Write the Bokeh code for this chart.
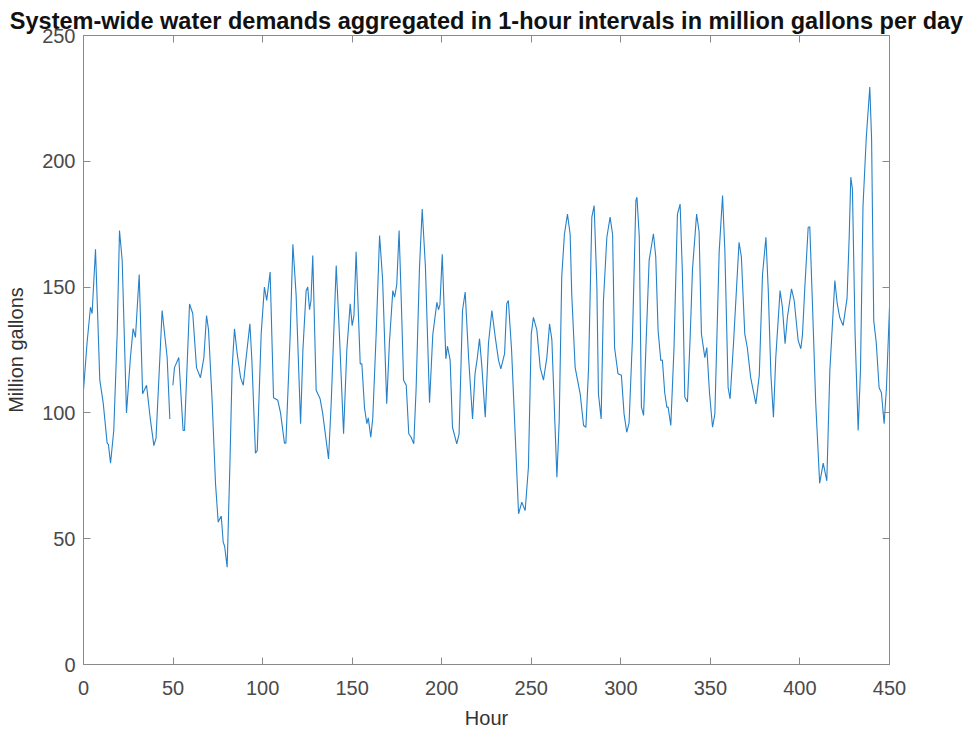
import math
from bokeh.plotting import figure
from bokeh.models import Range1d, LinearAxis, FixedTicker
from bokeh.embed import file_html
from bokeh.resources import INLINE

# Hour of the reading (a gap near hour 49)
hours = [
    0, 2, 3.9, 4.8, 6.7, 9.1, 11, 13.2, 13.9, 15.1, 16.9, 18.8, 20.1, 21.6, 24,
    26.2, 27.7, 29, 31.1, 33, 35.2, 37.4, 39.3, 40.5, 43.9, 46.7, 48.2, 49,
    49.9, 50.8, 53.2, 55.6, 56.4, 59.2, 61, 63.1, 65.3, 67.2, 68.7, 69.8, 71.8,
    73.7, 75.2, 76.9, 78, 78.8, 80.2, 81.7, 83, 84.3, 85.8, 87.7, 89.2, 90.5,
    92.9, 94, 96, 97, 99.2, 101, 102.3, 104.2, 106.1, 108.5, 110, 112.2, 113,
    115.4, 116.9, 118.7, 121.2, 122.5, 124.3, 125.2, 126.2, 127, 128, 129.9,
    132.1, 133.5, 135.5, 136.8, 138.3, 141.1, 142.9, 145.2, 147, 148.9, 150,
    151, 152.2, 154.5, 155.4, 156.9, 158.2, 159, 160.4, 161.5, 163.4, 165.3,
    167, 169.3, 170.8, 172.7, 173.7, 174.9, 176.2, 177.4, 178.7, 180.2, 181.6,
    182.9, 184.4, 185.7, 187.6, 189.1, 190.9, 193.2, 195, 197.3, 198.2, 199,
    200.3, 202.3, 203.2, 204.7, 206, 208.4, 209.7, 211.6, 213.1, 215, 217.2,
    218.6, 219.9, 221.1, 222.4, 224.3, 226.1, 228, 229.9, 231.7, 233, 235.1,
    236.3, 237.2, 239, 241, 242.9, 244.7, 246.6, 248.4, 250, 251.2, 253.1, 255,
    256.8, 258.7, 260.2, 261.5, 263, 264.3, 265.6, 267, 268.5, 270.2, 271.7,
    272.6, 274.5, 277.3, 279.2, 280.5, 282, 283.8, 285.1, 286.6, 287.5, 289,
    290.3, 292.2, 294, 295.4, 296.5, 298.4, 300.3, 301.8, 303.3, 304.6, 306.5,
    308.4, 309, 310.3, 311.5, 312.7, 314, 315.8, 318.2, 319.5, 320.8, 322.3,
    323.2, 324.5, 325.7, 326.4, 327.9, 329.7, 331.6, 333.1, 334.4, 335.7, 337.2,
    338.7, 340, 342.3, 343.7, 345, 346.9, 348, 349.5, 351.2, 352.5, 354.9,
    356.8, 358.1, 359.9, 361, 362.9, 366, 367.3, 369.2, 370.6, 372.5, 375.4,
    377.3, 379.1, 381, 382.3, 383.8, 385.2, 386.5, 388.9, 390.2, 391.7, 393,
    395.3, 396.8, 399, 400.5, 401.4, 402.7, 404.6, 405.5, 407, 408.8, 411, 413,
    415, 416.7, 419.5, 420.8, 422.2, 424.1, 426.3, 427.5, 428.4, 429.3, 430.8,
    432.5, 433.8, 435.2, 437, 439, 440, 441.2, 442.6, 444.2, 445.5, 447, 448.3,
    450,
]

# Million gallons (NaN = missing reading)
demand = [
    109, 128, 142, 139.5, 165, 113, 104, 88, 87.5, 80, 93, 131.5, 172.5, 160.6, 100,
    122, 133.5, 130, 155, 107.6, 111, 97, 87, 90, 140.7, 122, 97.6, float("nan"),
    111, 118, 122, 93, 93, 143.3, 139.5, 118, 114, 122, 138.7, 133, 105,
    72, 56.6, 59, 48.6, 47, 38.7, 78.4, 118, 133.4, 123.6, 114, 111, 120,
    135.4, 121, 84, 85, 131.4, 150, 144.7, 156, 106, 105, 100, 88, 88,
    131, 167, 147, 95.7, 125, 148.6, 150, 141, 144.5, 162.6, 109,
    105.6, 100, 89, 81.7, 104, 158.6, 131, 91.7, 124.8, 143.4, 134.7,
    138.7, 164, 119.5, 119.5, 102, 95.7, 98, 90.3, 98, 131.4, 170.5,
    153, 103.6, 128, 148.6, 146, 151, 172.5, 145, 113, 111, 91.7,
    90.3, 87.7, 109.5, 158, 181, 158, 104, 131, 144, 141, 143,
    163, 121.5, 126.5, 121, 94.3, 87.7, 91.7, 140.7, 148, 122, 97.6,
    115.6, 122, 129.5, 118.5, 98.3, 127.7, 140.7, 130, 121, 117.5, 123.6,
    143.4, 144.7, 125, 91.7, 59.9, 64.5, 61.2, 78.4, 131.4, 138, 133, 118,
    113, 122, 135.4, 129, 99.6, 74.4, 97, 154, 171, 179, 171,
    147, 118, 107.6, 95, 94.3, 118, 177.8, 182.4, 151, 107.6, 97.6,
    144.7, 169.8, 177.8, 171, 126, 115.6, 115, 99.6, 92.3, 96, 130,
    184.4, 185.7, 170, 102.3, 99, 126, 160.6, 171.2, 162, 132.8, 120.8,
    121, 108, 102.3, 102.3, 95, 126, 179, 183, 155, 106.3, 104.3,
    130, 157, 179, 172, 131.4, 122, 126, 108, 94.3, 99.6, 164,
    186.4, 164, 110, 105.6, 127.6, 167.8, 162, 131.4, 126, 114, 103.6,
    115, 155, 169.8, 149, 115, 98.3, 122, 148.6, 142, 127.5, 138,
    149.3, 144.6, 128.8, 125.5, 131, 149.5, 173.8, 174, 143, 104, 72, 80,
    73, 116.9, 152.6, 143.5, 138, 134.7, 145.5, 170, 193.7, 189, 131,
    93, 117, 182, 209, 229.5, 209, 136.7, 128, 110, 108, 95.7, 110,
    142,
]

x_ticks = [0, 50, 100, 150, 200, 250, 300, 350, 400, 450]
y_ticks = [0, 50, 100, 150, 200, 250]

AX = "#8a8a8a"
TXT = "#4a4a4a"
FONT = "Liberation Sans"

p = figure(
    frame_width=806, frame_height=629,
    x_range=Range1d(0, 450), y_range=Range1d(0, 250),
    output_backend="svg", toolbar_location=None,
    min_border_left=83, min_border_right=76, min_border_top=35, min_border_bottom=0,
    title="System-wide water demands aggregated in 1-hour intervals in million gallons per day",
)
p.title.text_font = FONT
p.title.text_font_size = "23.5px"
p.title.text_font_style = "bold"
p.title.text_color = "#111111"
p.title.align = "center"
p.title.standoff = 4
p.title.offset = 0

p.line(hours, demand, line_color="#2581c9", line_width=1.1)

p.xgrid.visible = False
p.ygrid.visible = False
p.outline_line_color = AX
p.outline_line_width = 1

def style(ax):
    ax.axis_line_color = AX
    ax.major_tick_line_color = AX
    ax.major_tick_in = 7
    ax.major_tick_out = 0
    ax.minor_tick_line_color = None
    ax.major_label_text_font = FONT
    ax.major_label_text_font_size = "20px"
    ax.major_label_text_color = TXT
    ax.axis_label_text_font = FONT
    ax.axis_label_text_font_size = "20px"
    ax.axis_label_text_font_style = "normal"
    ax.axis_label_text_color = "#333333"

p.xaxis.ticker = FixedTicker(ticks=x_ticks)
p.yaxis.ticker = FixedTicker(ticks=y_ticks)
style(p.xaxis[0]); style(p.yaxis[0])
p.xaxis.axis_label = "Hour"
p.yaxis.axis_label = "Million gallons"
p.xaxis.major_label_standoff = 16
p.yaxis.major_label_standoff = 8
p.xaxis.axis_label_standoff = 9
p.yaxis.axis_label_standoff = 12

top = LinearAxis(ticker=FixedTicker(ticks=x_ticks),
                 major_label_overrides={t: "" for t in x_ticks})
right = LinearAxis(ticker=FixedTicker(ticks=y_ticks),
                   major_label_overrides={t: "" for t in y_ticks})
for a in (top, right):
    style(a)
    a.major_label_standoff = 0
p.add_layout(top, "above")
p.add_layout(right, "right")

open("out.html", "w").write(file_html(p, INLINE))
